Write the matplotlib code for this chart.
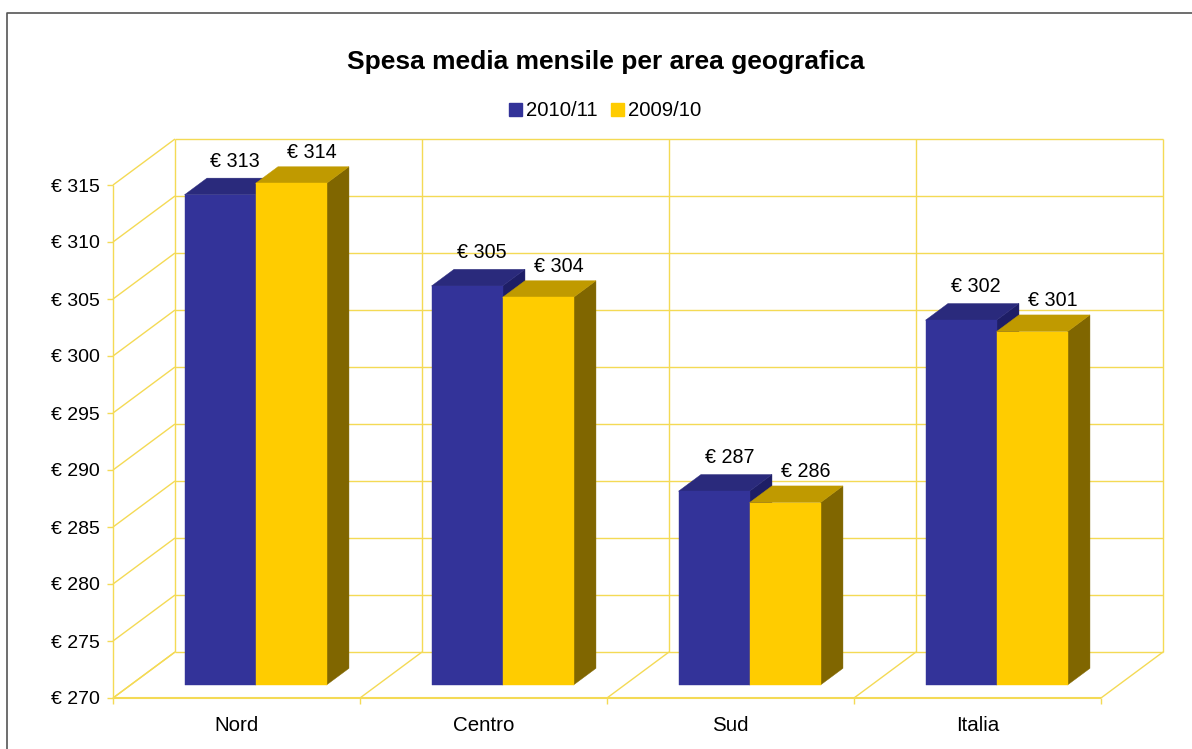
import matplotlib
matplotlib.use("Agg")
import matplotlib.pyplot as plt
from matplotlib.patches import Polygon, Patch
from matplotlib.lines import Line2D

plt.rcParams['font.family'] = ['Liberation Sans', 'DejaVu Sans']

# Data
categories = ["Nord", "Centro", "Sud", "Italia"]
spesa_2010 = [313, 305, 287, 302]
spesa_2009 = [314, 304, 286, 301]
y_ticks = [270, 275, 280, 285, 290, 295, 300, 305, 310, 315]

W, H = 1192, 749
GRID = "#f4da55"
BLUE = ("#333399", "#2a2a7c", "#1e1e66")
YELLOW = ("#ffcc00", "#c09a00", "#806600")

fig = plt.figure(figsize=(W / 100, H / 100), dpi=100, facecolor="white")
# front plane of the box: x 113-1101 px, y 185-698 px
ax = fig.add_axes([113 / W, 1 - 698 / H, 988 / W, 513 / H])
ax.set_xlim(0, 4)
ax.set_ylim(270, 315)
ax.patch.set_visible(False)
for s in ax.spines.values():
    s.set_visible(False)

# pseudo 3d: depth 1 shifts by this much in data units
DX = 62 / 247
DY = 46 / 11.4


def proj(x, v, d):
    return x + d * DX, v + d * DY


def line3d(p, q, lw=1.0):
    ax.plot([p[0], q[0]], [p[1], q[1]], color=GRID, lw=lw, clip_on=False, zorder=1, solid_capstyle="butt")


# walls and floor
for v in y_ticks:
    line3d(proj(0, v, 0), proj(0, v, 1))
    line3d(proj(0, v, 1), proj(4, v, 1))
for i in range(5):
    line3d(proj(i, 270, 0), proj(i, 270, 1))
    line3d(proj(i, 270, 1), proj(i, 315, 1))
line3d(proj(0, 270, 0), proj(0, 315, 0))
line3d(proj(0, 270, 0), proj(4, 270, 0), lw=1.5)


def bar3d(x, w, v, cols):
    d0, d1 = 0.283, 0.645
    base = 270
    front = [proj(x, base, d0), proj(x + w, base, d0), proj(x + w, v, d0), proj(x, v, d0)]
    top = [proj(x, v, d0), proj(x + w, v, d0), proj(x + w, v, d1), proj(x, v, d1)]
    side = [proj(x + w, base, d0), proj(x + w, base, d1), proj(x + w, v, d1), proj(x + w, v, d0)]
    for pts, c in ((side, cols[2]), (top, cols[1]), (front, cols[0])):
        ax.add_patch(Polygon(pts, closed=True, facecolor=c, edgecolor=c, lw=0.3, clip_on=False, zorder=3))


bw = 0.2874
for i, cat in enumerate(categories):
    c = i + 0.506
    bar3d(c - bw, bw, spesa_2010[i], BLUE)
    bar3d(c, bw, spesa_2009[i], YELLOW)
    xb, yb = proj(c - bw / 2, spesa_2010[i], 0.283)
    ax.annotate("€ %d" % spesa_2010[i], (xb, yb), xytext=(11, 24), textcoords="offset points",
                ha="center", va="center", fontsize=14.2, color="black", zorder=5, annotation_clip=False)
    xb, yb = proj(c + bw / 2, spesa_2009[i], 0.283)
    ax.annotate("€ %d" % spesa_2009[i], (xb, yb), xytext=(15, 22.5), textcoords="offset points",
                ha="center", va="center", fontsize=14.2, color="black", zorder=5, annotation_clip=False)

# axis ticks
ax.set_yticks(y_ticks)
ax.set_yticklabels(["€ %d" % v for v in y_ticks], fontsize=14)
ax.set_xticks(range(5))
ax.set_xticklabels([])
ax.set_xticks([i + 0.5 for i in range(4)], minor=True)
ax.set_xticklabels(categories, minor=True, fontsize=14.8)
ax.tick_params(axis="both", which="major", color=GRID, length=4.5, width=1.0, pad=5)
ax.tick_params(axis="x", which="minor", length=0, pad=13)

fig.text(605.5 / W, 1 - 62 / H, "Spesa media mensile per area geografica", fontsize=19,
         fontweight="bold", ha="center", va="center")

handles = [Patch(facecolor=BLUE[0], edgecolor=BLUE[0]), Patch(facecolor=YELLOW[0], edgecolor=YELLOW[0])]
fig.legend(handles, ["2010/11", "2009/10"], loc="center", bbox_to_anchor=(605 / W, 1 - 111 / H), ncol=2,
           frameon=False, fontsize=14.6, handlelength=0.64, handleheight=0.64, handletextpad=0.2,
           columnspacing=0.64, borderpad=0)

# outer frame of the screenshot
fig.add_artist(Line2D([6.5 / W, 6.5 / W, 1], [0, 1 - 13 / H, 1 - 13 / H], color="#555555", lw=1.2))

fig.savefig("out.png", dpi=100)
